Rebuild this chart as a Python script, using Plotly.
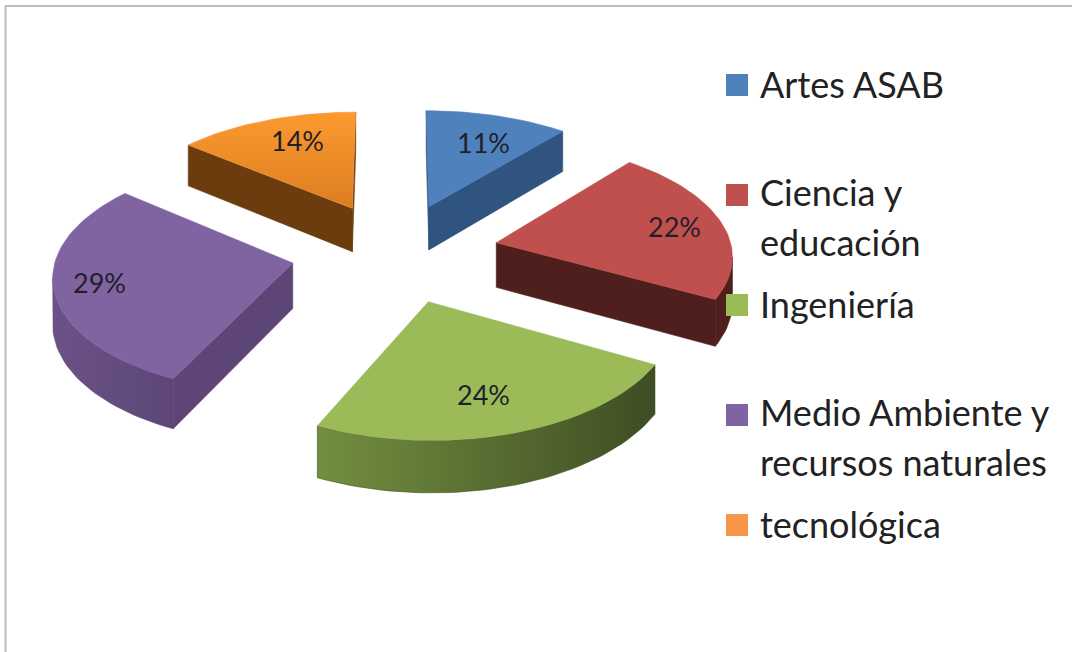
import math
import plotly.graph_objects as go

categories = ["Artes ASAB", "Ciencia y educación", "Ingeniería",
              "Medio Ambiente y recursos naturales", "tecnológica"]
values = [11, 22, 24, 29, 14]
legend_lines = [["Artes ASAB"], ["Ciencia y", "educación"], ["Ingeniería"],
                ["Medio Ambiente y", "recursos naturales"], ["tecnológica"]]
top_colors = ["#4f81bd", "#c0504d", "#9bbb59", "#8064a2", "#f79646"]
cut_colors = ["#2f5480", "#4f1f1d", "#3f4d23", "#5d4677", "#6b3c0e"]
rim_left = ["#2f5480", "#4f1f1d", "#728f40", "#6a5288", "#6b3c0e"]
rim_right = ["#2f5480", "#4f1f1d", "#3f4d23", "#5d4677", "#6b3c0e"]
label_radius = [0.70, 0.79, 0.72, 0.81, 0.74]
label_frac = [0.55, 0.50, 0.52, 0.51, 0.58]
draw_order = [4, 0, 1, 3, 2]

CX, CY, AX, BY, K, KX, EXPLODE, DEPTH = 395, 252, 236, 114, 0.1, 0.09, 0.44, 45


def project(x, y):
    w = 1 + K * y
    return CX + AX * x / (1 + KX * y), CY - BY * y / w, w


fig = go.Figure()
total = sum(values)
starts = [sum(values[:i]) / total * 2 * math.pi for i in range(len(values))]
annotations = []


def add_poly(xs, ys, line_col, **kw):
    fig.add_trace(go.Scatter(x=xs, y=ys, mode="lines", fill="toself",
                             line=dict(color=line_col, width=0.6),
                             hoverinfo="skip", showlegend=False, **kw))


for i in draw_order:
    a0 = starts[i]
    a1 = a0 + values[i] / total * 2 * math.pi
    mid = (a0 + a1) / 2
    ox, oy = EXPLODE * math.sin(mid), EXPLODE * math.cos(mid)
    steps = max(8, values[i] * 2)
    angles = [a0 + (a1 - a0) * s / steps for s in range(steps + 1)]
    apex = project(ox, oy)
    rim = [project(ox + math.sin(a), oy + math.cos(a)) for a in angles]

    # the slice outline runs clockwise on screen, so edges moving left face the viewer
    for p, q in ((apex, rim[0]), (rim[-1], apex)):
        if q[0] < p[0]:
            add_poly([p[0], q[0], q[0], p[0], p[0]],
                     [p[1], q[1], q[1] + DEPTH / q[2], p[1] + DEPTH / p[2], p[1]],
                     cut_colors[i], fillcolor=cut_colors[i])
    front = [j for j in range(steps) if rim[j + 1][0] < rim[j][0]]
    if front:
        run = rim[front[0]:front[-1] + 2]
        xs = [p[0] for p in run] + [p[0] for p in reversed(run)] + [run[0][0]]
        ys = [p[1] for p in run] + [p[1] + DEPTH / p[2] for p in reversed(run)] + [run[0][1]]
        add_poly(xs, ys, rim_right[i],
                 fillgradient=dict(type="horizontal",
                                   colorscale=[[0, rim_left[i]], [1, rim_right[i]]]))

    pts = [apex] + rim + [apex]
    kw = dict(fillcolor=top_colors[i])
    if categories[i] == "tecnológica":
        kw = dict(fillgradient=dict(type="vertical",
                                    colorscale=[[0, "#dd7d20"], [1, "#fb9a2e"]]))
    fig.add_trace(go.Scatter(x=[p[0] for p in pts], y=[p[1] for p in pts], mode="lines",
                             fill="toself", line=dict(color=top_colors[i], width=0.6),
                             name=categories[i], hoverinfo="name", showlegend=False, **kw))
    la = a0 + (a1 - a0) * label_frac[i]
    lx, ly, _ = project(ox + label_radius[i] * math.sin(la),
                        oy + label_radius[i] * math.cos(la))
    annotations.append(dict(x=lx, y=ly, xref="x", yref="y", text=f"{values[i]}%",
                            showarrow=False, font=dict(family="Lato", size=27, color="#1f1f2a")))

shapes = [
    dict(type="line", xref="x", yref="y", x0=5.5, x1=5.5, y0=6, y1=652,
         line=dict(color="#bdbdbd", width=2), layer="below"),
    dict(type="line", xref="x", yref="y", x0=5, x1=1072, y0=6, y1=6,
         line=dict(color="#bdbdbd", width=2), layer="below"),
]
LEG_X, LEG_Y, LEG_STEP, LINE_STEP = 726, 85, 110, 50
for i, lines in enumerate(legend_lines):
    yc = LEG_Y + LEG_STEP * i
    shapes.append(dict(type="rect", xref="x", yref="y", x0=LEG_X, x1=LEG_X + 22,
                       y0=yc - 11, y1=yc + 11, fillcolor=top_colors[i],
                       line=dict(width=0), layer="above"))
    for k, line in enumerate(lines):
        annotations.append(dict(x=LEG_X + 32, y=yc - 1 + k * LINE_STEP - (2 if len(lines) > 1 else 0),
                                xref="x", yref="y", text=line, showarrow=False,
                                xanchor="left", yanchor="middle",
                                font=dict(family="Lato", size=36, color="#222222")))

fig.update_layout(
    width=1072, height=652, margin=dict(l=0, r=0, t=0, b=0),
    paper_bgcolor="white", plot_bgcolor="white",
    xaxis=dict(range=[0, 1072], visible=False, fixedrange=True),
    yaxis=dict(range=[652, 0], visible=False, fixedrange=True),
    shapes=shapes, annotations=annotations, showlegend=False,
)
fig.write_html("out.html", config={"displayModeBar": False},
               post_script="document.body.style.margin='0';document.body.style.overflow='hidden';")
